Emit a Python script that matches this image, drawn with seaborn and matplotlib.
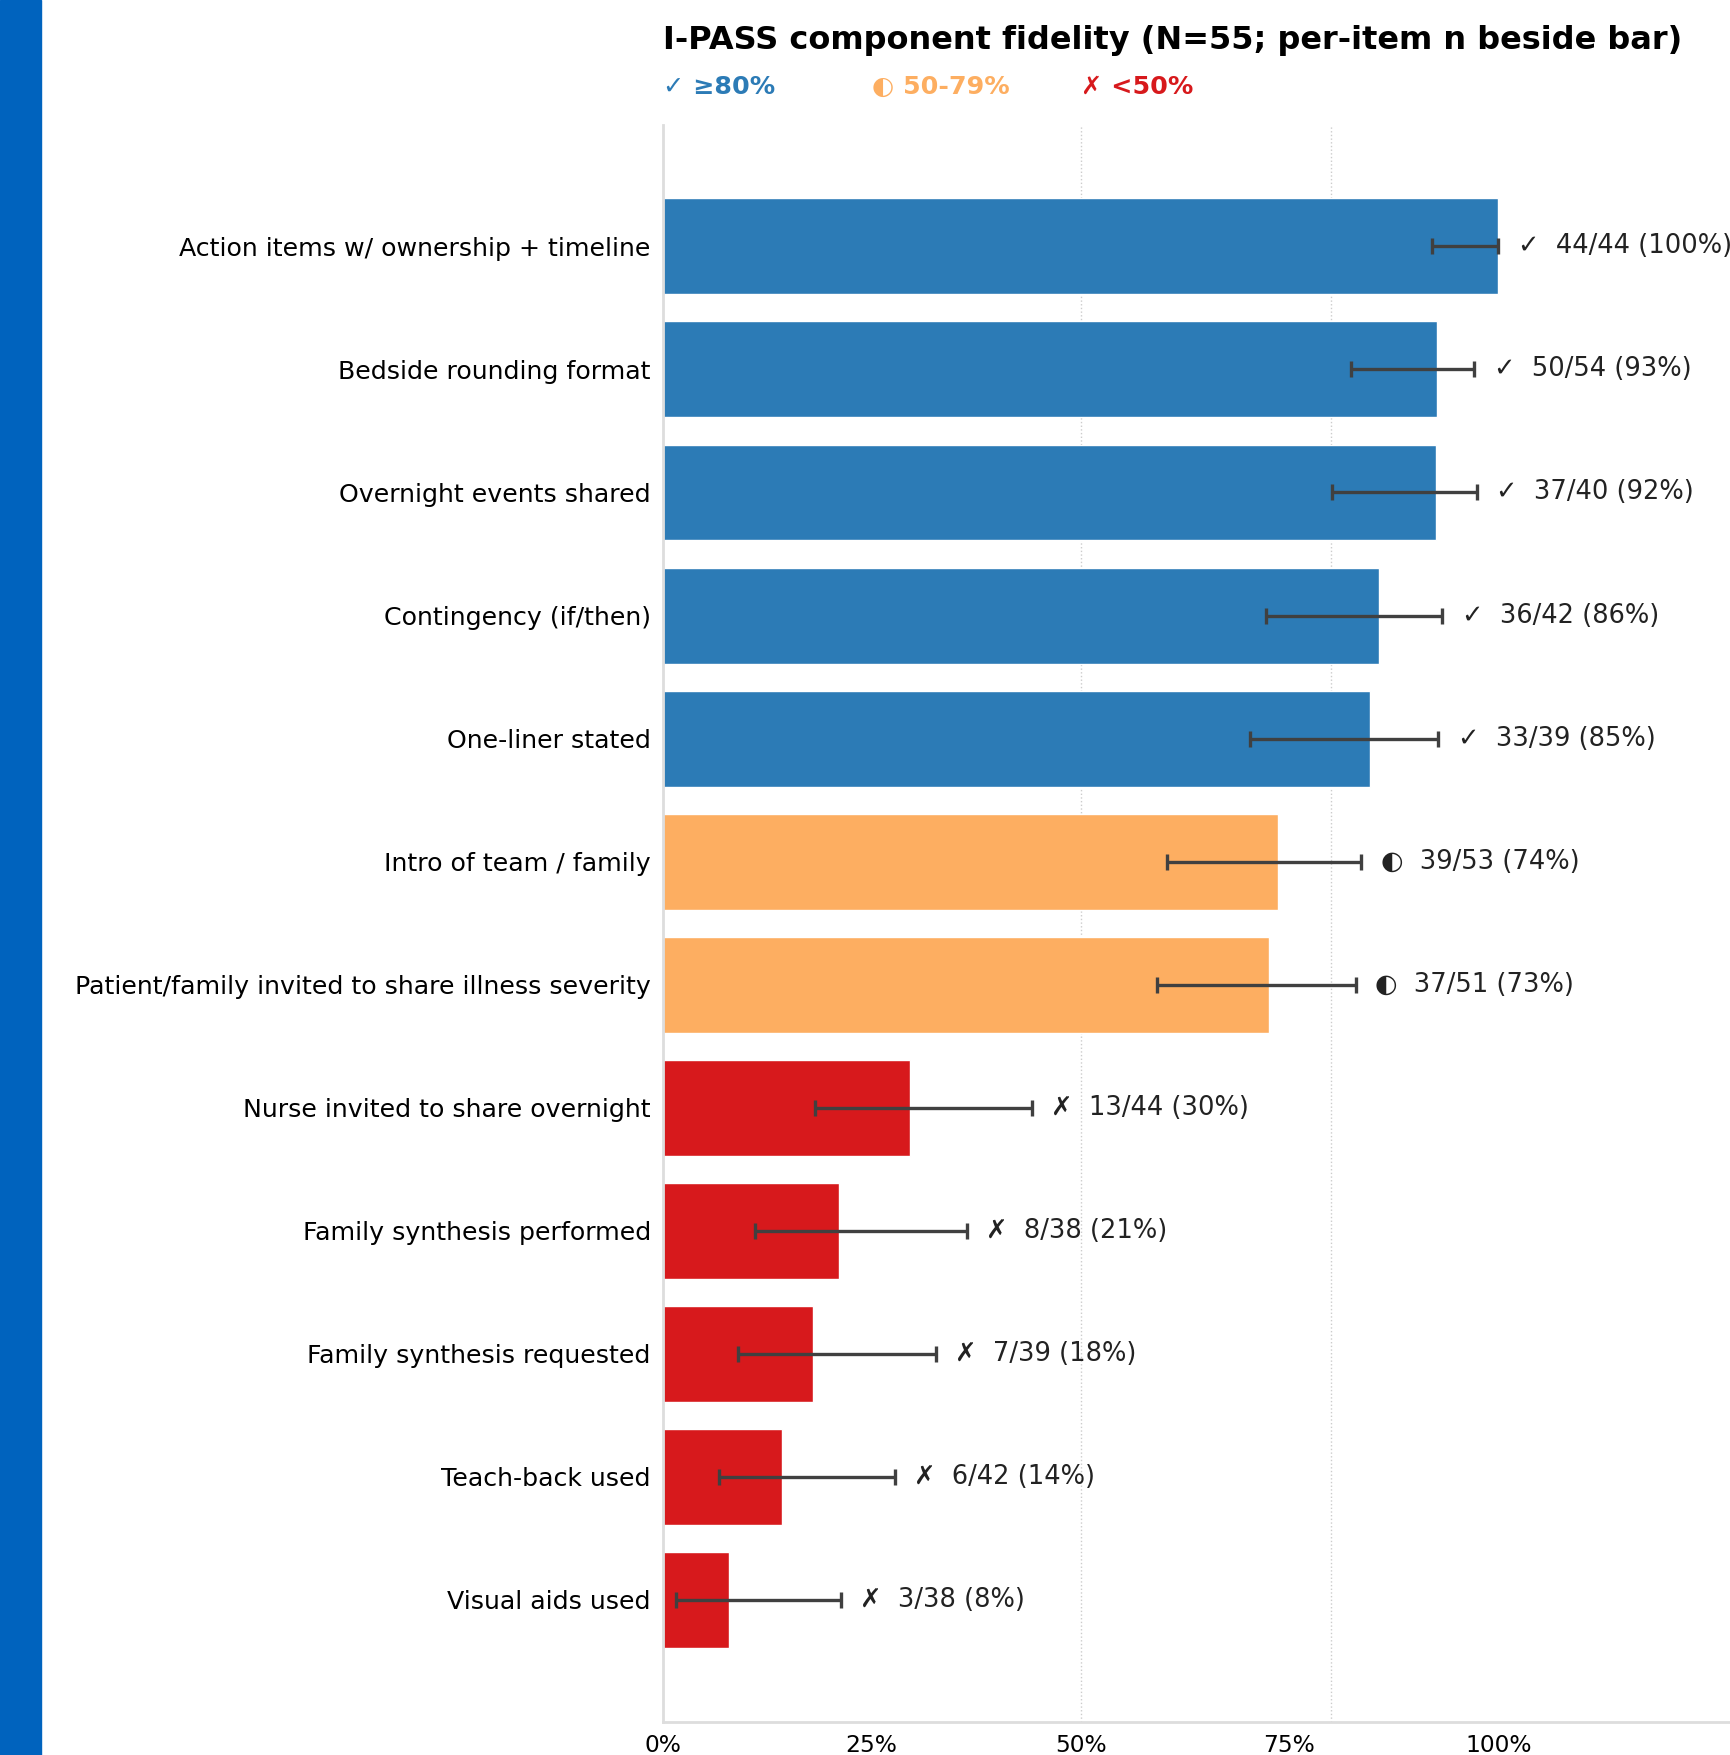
import numpy as np
import pandas as pd
import seaborn as sns
import matplotlib.pyplot as plt
from matplotlib.patches import Rectangle

sns.set_theme(style="white")
plt.rcParams["font.family"] = ["DejaVu Sans"]

# Data
items = [
    "Action items w/ ownership + timeline",
    "Bedside rounding format",
    "Overnight events shared",
    "Contingency (if/then)",
    "One-liner stated",
    "Intro of team / family",
    "Patient/family invited to share illness severity",
    "Nurse invited to share overnight",
    "Family synthesis performed",
    "Family synthesis requested",
    "Teach-back used",
    "Visual aids used",
]
done = [44, 50, 37, 36, 33, 39, 37, 13, 8, 7, 6, 3]
total = [44, 54, 40, 42, 39, 53, 51, 44, 38, 39, 42, 38]
ci_low = [0.920, 0.824, 0.801, 0.722, 0.703, 0.604, 0.591, 0.182, 0.111, 0.090, 0.067, 0.016]
ci_high = [1.000, 0.971, 0.974, 0.933, 0.928, 0.836, 0.829, 0.442, 0.364, 0.327, 0.278, 0.213]

tier_colors = {"high": "#2c7bb6", "mid": "#fdae61", "low": "#d7191c"}
tier_marks = {"high": "\u2713", "mid": "\u25d0", "low": "\u2717"}
tier_names = {"high": "\u226580%", "mid": "50-79%", "low": "<50%"}

df = pd.DataFrame({"item": items, "done": done, "total": total,
                   "lo": ci_low, "hi": ci_high})
df["pct"] = df["done"] / df["total"]
df["tier"] = np.where(df["pct"] >= 0.8, "high",
                      np.where(df["pct"] >= 0.5, "mid", "low"))

fig = plt.figure(figsize=(17.3, 17.55), dpi=100)
ax = fig.add_axes([0.383, 0.019, 0.617, 0.91])

# Bars
sns.barplot(data=df, y="item", x="pct", hue="tier", palette=tier_colors,
            dodge=False, orient="h", width=0.78, legend=False, ax=ax,
            saturation=1)

# Confidence intervals
ypos = np.arange(len(df))
ax.errorbar(df["pct"], ypos,
            xerr=[df["pct"] - df["lo"], df["hi"] - df["pct"]],
            fmt="none", ecolor="#404040", elinewidth=2.4, capsize=6,
            capthick=2.4, zorder=5)

# Labels beside the bars
for i, r in df.iterrows():
    ax.annotate(f"{tier_marks[r['tier']]}  {r['done']}/{r['total']} ({r['pct']:.0%})",
                xy=(r["hi"], i), xytext=(14, 0), textcoords="offset points",
                va="center", ha="left", fontsize=18.5, color="#222222")

# Threshold lines
for t in [0.5, 0.8]:
    ax.axvline(t, color="#cccccc", lw=1, ls=":", zorder=0)

ax.set_xlim(0, 1.277)
ax.set_ylim(len(df) - 0.01, -0.99)
ax.set_xticks([0, 0.25, 0.5, 0.75, 1.0])
ax.set_xticklabels(["0%", "25%", "50%", "75%", "100%"])
ax.tick_params(axis="x", length=0, labelsize=16.8, pad=9, colors="black")
ax.tick_params(axis="y", length=0, labelsize=18.2, pad=8.5, colors="black")
ax.set_xlabel("")
ax.set_ylabel("")
for s in ["top", "right"]:
    ax.spines[s].set_visible(False)
for s in ["left", "bottom"]:
    ax.spines[s].set_color("#dddddd")
    ax.spines[s].set_linewidth(2)

# Title and tier key
fig.text(0.383, 0.977, "I-PASS component fidelity (N=55; per-item n beside bar)",
         fontsize=23, fontweight="bold", color="black", ha="left", va="center")
for x, k in zip([0, 0.25, 0.5], ["high", "mid", "low"]):
    ax.text(x, 1.0235, f"{tier_marks[k]} {tier_names[k]}", transform=ax.get_xaxis_transform(),
            fontsize=18.3, fontweight="bold", color=tier_colors[k], ha="left", va="center")

# Left accent strip
fig.patches.append(Rectangle((0, 0), 41 / 1730, 1, transform=fig.transFigure,
                             color="#0063be", zorder=0))

fig.savefig("out.png", dpi=100)
